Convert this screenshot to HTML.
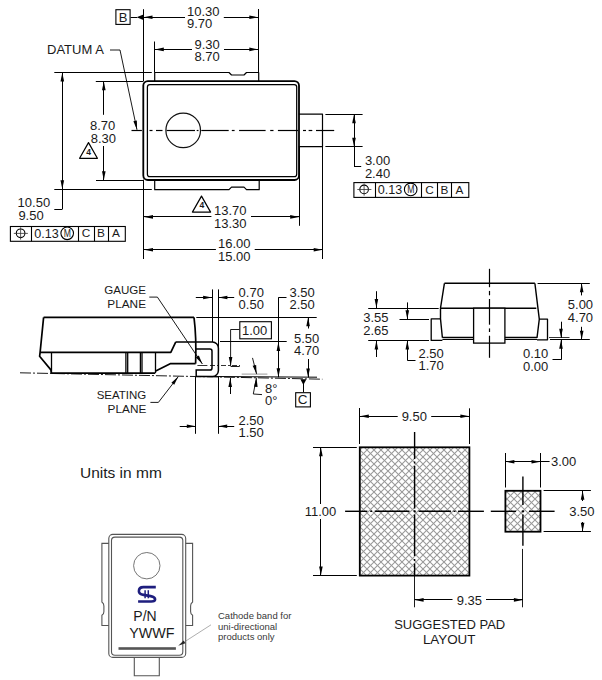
<!DOCTYPE html>
<html><head><meta charset="utf-8"><style>
html,body{margin:0;padding:0;background:#fff;}
svg{display:block;}
text{font-family:"Liberation Sans",sans-serif;}
</style></head><body>
<svg width="602" height="680" viewBox="0 0 602 680">
<defs>
<pattern id="hatch" patternUnits="userSpaceOnUse" x="3" y="2" width="7" height="7">
<rect width="7" height="7" fill="#fff"/>
<path d="M-1,1 l2,-2 M0,7 l7,-7 M6,8 l2,-2" stroke="#999" stroke-width="1.05"/>
<path d="M-1,6 l2,2 M0,0 l7,7 M6,-1 l2,2" stroke="#999" stroke-width="1.05"/>
</pattern>
</defs>
<rect width="602" height="680" fill="#fff"/>
<rect x="143.3" y="81.1" width="155.7" height="98.9" rx="4.5" fill="none" stroke="#000" stroke-width="1.8"/>
<rect x="147.4" y="84.5" width="149.3" height="92.2" rx="2.5" fill="none" stroke="#000" stroke-width="1.25"/>
<polyline points="154.7,81 154.7,72.5 229,72.5 231.5,75 244,75 246.5,72.5 258.7,72.5 258.7,81" fill="none" stroke="#000" stroke-width="1.2" stroke-linejoin="round"/>
<polyline points="154.7,179.6 154.7,189.7 229,189.7 231.5,187.2 244,187.2 246.5,189.7 259.2,189.7 259.2,179.6" fill="none" stroke="#000" stroke-width="1.2" stroke-linejoin="round"/>
<polyline points="298.8,114.2 322.5,114.2 322.5,146.7 298.8,146.7" fill="none" stroke="#000" stroke-width="1.2" stroke-linejoin="round"/>
<circle cx="183.2" cy="130.4" r="17.3" fill="none" stroke="#111" stroke-width="1.2"/>
<line x1="131.5" y1="130.5" x2="141.9" y2="130.5" stroke="#000" stroke-width="1.2"/>
<line x1="149.5" y1="130.5" x2="152.5" y2="130.5" stroke="#000" stroke-width="1.2"/>
<line x1="156" y1="130.5" x2="162.5" y2="130.5" stroke="#000" stroke-width="1.2"/>
<line x1="166.6" y1="130.5" x2="195" y2="130.5" stroke="#000" stroke-width="1.2"/>
<line x1="196.7" y1="130.5" x2="198.5" y2="130.5" stroke="#000" stroke-width="1.2"/>
<line x1="201.3" y1="130.5" x2="228.7" y2="130.5" stroke="#000" stroke-width="1.2"/>
<line x1="231.8" y1="130.5" x2="234.6" y2="130.5" stroke="#000" stroke-width="1.2"/>
<line x1="239.1" y1="130.5" x2="265.6" y2="130.5" stroke="#000" stroke-width="1.2"/>
<line x1="270.2" y1="130.5" x2="273.5" y2="130.5" stroke="#000" stroke-width="1.2"/>
<line x1="277.9" y1="130.5" x2="298" y2="130.5" stroke="#000" stroke-width="1.2"/>
<line x1="303" y1="130.5" x2="306" y2="130.5" stroke="#000" stroke-width="1.2"/>
<line x1="308.6" y1="130.5" x2="312.3" y2="130.5" stroke="#000" stroke-width="1.2"/>
<line x1="316" y1="130.5" x2="334.2" y2="130.5" stroke="#000" stroke-width="1.2"/>
<rect x="115.9" y="9.7" width="14.2" height="14.7" rx="0" fill="none" stroke="#000" stroke-width="1.1"/>
<text x="123" y="22.3" font-size="13" text-anchor="middle" fill="#1a1a1a" stroke="#1a1a1a" stroke-width="0">B</text>
<line x1="130.6" y1="17.5" x2="137" y2="17.5" stroke="#000" stroke-width="1.05"/>
<polygon points="136.60,17.30 143.40,14.60 143.40,20.00" fill="#000"/>
<line x1="143.5" y1="9.2" x2="143.5" y2="81" stroke="#000" stroke-width="1.05"/>
<line x1="258.5" y1="9" x2="258.5" y2="72.5" stroke="#000" stroke-width="1.05"/>
<line x1="154.5" y1="41.5" x2="154.5" y2="72.5" stroke="#000" stroke-width="1.05"/>
<line x1="143.5" y1="17.5" x2="185" y2="17.5" stroke="#000" stroke-width="1.05"/>
<line x1="223.8" y1="17.5" x2="258.3" y2="17.5" stroke="#000" stroke-width="1.05"/>
<polygon points="143.50,17.30 152.50,15.50 152.50,19.10" fill="#000"/>
<polygon points="258.30,17.30 249.30,19.10 249.30,15.50" fill="#000"/>
<text x="187" y="15.8" font-size="13" text-anchor="start" fill="#1a1a1a" stroke="#1a1a1a" stroke-width="0">10.30</text>
<text x="187" y="28.3" font-size="13" text-anchor="start" fill="#1a1a1a" stroke="#1a1a1a" stroke-width="0">9.70</text>
<line x1="154.8" y1="49.5" x2="192" y2="49.5" stroke="#000" stroke-width="1.05"/>
<line x1="224" y1="49.5" x2="258.3" y2="49.5" stroke="#000" stroke-width="1.05"/>
<polygon points="154.80,49.40 163.80,47.60 163.80,51.20" fill="#000"/>
<polygon points="258.30,49.40 249.30,51.20 249.30,47.60" fill="#000"/>
<text x="194.5" y="48.7" font-size="13" text-anchor="start" fill="#1a1a1a" stroke="#1a1a1a" stroke-width="0">9.30</text>
<text x="194.5" y="61.3" font-size="13" text-anchor="start" fill="#1a1a1a" stroke="#1a1a1a" stroke-width="0">8.70</text>
<text x="47" y="54.3" font-size="13" text-anchor="start" fill="#1a1a1a" stroke="#1a1a1a" stroke-width="0">DATUM A</text>
<polyline points="110,50 120,50 137,129.8" fill="none" stroke="#000" stroke-width="0.9" stroke-linejoin="round"/>
<polygon points="137.00,129.80 133.36,121.37 136.89,120.62" fill="#000"/>
<line x1="54.3" y1="72.5" x2="151.8" y2="72.5" stroke="#000" stroke-width="1.05"/>
<line x1="95.8" y1="81.5" x2="143.5" y2="81.5" stroke="#000" stroke-width="1.05"/>
<line x1="96" y1="180.5" x2="143.5" y2="180.5" stroke="#000" stroke-width="1.05"/>
<line x1="54.3" y1="189.5" x2="151.8" y2="189.5" stroke="#000" stroke-width="1.05"/>
<line x1="62.5" y1="72.4" x2="62.5" y2="209.2" stroke="#000" stroke-width="1.05"/>
<line x1="62.3" y1="209.5" x2="54.3" y2="209.5" stroke="#000" stroke-width="1.05"/>
<polygon points="62.30,72.40 64.10,81.40 60.50,81.40" fill="#000"/>
<polygon points="62.30,189.30 60.50,180.30 64.10,180.30" fill="#000"/>
<text x="17.6" y="207.4" font-size="13" text-anchor="start" fill="#1a1a1a" stroke="#1a1a1a" stroke-width="0">10.50</text>
<text x="18.4" y="220.4" font-size="13" text-anchor="start" fill="#1a1a1a" stroke="#1a1a1a" stroke-width="0">9.50</text>
<line x1="103.5" y1="81.2" x2="103.5" y2="114.8" stroke="#000" stroke-width="1.05"/>
<line x1="103.5" y1="146" x2="103.5" y2="180.2" stroke="#000" stroke-width="1.05"/>
<polygon points="103.80,81.20 105.60,90.20 102.00,90.20" fill="#000"/>
<polygon points="103.80,180.20 102.00,171.20 105.60,171.20" fill="#000"/>
<text x="90" y="129.7" font-size="13" text-anchor="start" fill="#1a1a1a" stroke="#1a1a1a" stroke-width="0">8.70</text>
<text x="90.7" y="142.6" font-size="13" text-anchor="start" fill="#1a1a1a" stroke="#1a1a1a" stroke-width="0">8.30</text>
<polygon points="88.5,142.6 79.6,158.3 97.4,158.3" fill="none" stroke="#000" stroke-width="1.2" stroke-linejoin="round"/>
<text x="88.7" y="154.9" font-size="8.5" text-anchor="middle" fill="#1a1a1a" stroke="#1a1a1a" stroke-width="0" font-weight="bold">4</text>
<rect x="10.4" y="226.5" width="114.9" height="14.8" rx="0" fill="none" stroke="#000" stroke-width="1.1"/>
<line x1="31.5" y1="226.5" x2="31.5" y2="241.3" stroke="#000" stroke-width="1.1"/>
<line x1="78.5" y1="226.5" x2="78.5" y2="241.3" stroke="#000" stroke-width="1.1"/>
<line x1="94.5" y1="226.5" x2="94.5" y2="241.3" stroke="#000" stroke-width="1.1"/>
<line x1="108.5" y1="226.5" x2="108.5" y2="241.3" stroke="#000" stroke-width="1.1"/>
<circle cx="20.6" cy="233.3" r="4.3" fill="none" stroke="#000" stroke-width="1.1"/>
<line x1="13.8" y1="233.4" x2="27.9" y2="233.4" stroke="#333" stroke-width="0.8"/>
<line x1="20.6" y1="227.3" x2="20.6" y2="239.6" stroke="#333" stroke-width="0.8"/>
<text x="34.3" y="237.7" font-size="12.6" text-anchor="start" fill="#1a1a1a" stroke="#1a1a1a" stroke-width="0">0.13</text>
<circle cx="67.2" cy="233.3" r="6.3" fill="none" stroke="#000" stroke-width="1.1"/>
<text x="67.3" y="237.3" font-size="10.8" text-anchor="middle" fill="#1a1a1a" stroke="#1a1a1a" stroke-width="0" textLength="7.2" lengthAdjust="spacingAndGlyphs">M</text>
<text x="85.9" y="237.4" font-size="11.8" text-anchor="middle" fill="#1a1a1a" stroke="#1a1a1a" stroke-width="0">C</text>
<text x="101.0" y="237.4" font-size="11.8" text-anchor="middle" fill="#1a1a1a" stroke="#1a1a1a" stroke-width="0">B</text>
<text x="116.0" y="237.4" font-size="11.8" text-anchor="middle" fill="#1a1a1a" stroke="#1a1a1a" stroke-width="0">A</text>
<line x1="325.4" y1="114.5" x2="362.6" y2="114.5" stroke="#000" stroke-width="1.05"/>
<line x1="325.4" y1="146.5" x2="362.6" y2="146.5" stroke="#000" stroke-width="1.05"/>
<line x1="354.5" y1="114.2" x2="354.5" y2="166.6" stroke="#000" stroke-width="1.05"/>
<line x1="354" y1="166.5" x2="361.2" y2="166.5" stroke="#000" stroke-width="1.05"/>
<polygon points="354.00,114.20 355.80,123.20 352.20,123.20" fill="#000"/>
<polygon points="354.00,146.70 352.20,137.70 355.80,137.70" fill="#000"/>
<text x="364.9" y="165.1" font-size="13" text-anchor="start" fill="#1a1a1a" stroke="#1a1a1a" stroke-width="0">3.00</text>
<text x="364.9" y="177.9" font-size="13" text-anchor="start" fill="#1a1a1a" stroke="#1a1a1a" stroke-width="0">2.40</text>
<rect x="353.9" y="182.6" width="114.9" height="14.8" rx="0" fill="none" stroke="#000" stroke-width="1.1"/>
<line x1="375.5" y1="182.6" x2="375.5" y2="197.4" stroke="#000" stroke-width="1.1"/>
<line x1="421.5" y1="182.6" x2="421.5" y2="197.4" stroke="#000" stroke-width="1.1"/>
<line x1="437.5" y1="182.6" x2="437.5" y2="197.4" stroke="#000" stroke-width="1.1"/>
<line x1="451.5" y1="182.6" x2="451.5" y2="197.4" stroke="#000" stroke-width="1.1"/>
<circle cx="364.09999999999997" cy="189.4" r="4.3" fill="none" stroke="#000" stroke-width="1.1"/>
<line x1="357.29999999999995" y1="189.5" x2="371.4" y2="189.5" stroke="#333" stroke-width="0.8"/>
<line x1="364.09999999999997" y1="183.4" x2="364.09999999999997" y2="195.7" stroke="#333" stroke-width="0.8"/>
<text x="377.79999999999995" y="193.79999999999998" font-size="12.6" text-anchor="start" fill="#1a1a1a" stroke="#1a1a1a" stroke-width="0">0.13</text>
<circle cx="410.7" cy="189.4" r="6.3" fill="none" stroke="#000" stroke-width="1.1"/>
<text x="410.79999999999995" y="193.4" font-size="10.8" text-anchor="middle" fill="#1a1a1a" stroke="#1a1a1a" stroke-width="0" textLength="7.2" lengthAdjust="spacingAndGlyphs">M</text>
<text x="429.4" y="193.5" font-size="11.8" text-anchor="middle" fill="#1a1a1a" stroke="#1a1a1a" stroke-width="0">C</text>
<text x="444.5" y="193.5" font-size="11.8" text-anchor="middle" fill="#1a1a1a" stroke="#1a1a1a" stroke-width="0">B</text>
<text x="459.5" y="193.5" font-size="11.8" text-anchor="middle" fill="#1a1a1a" stroke="#1a1a1a" stroke-width="0">A</text>
<line x1="143.5" y1="179.6" x2="143.5" y2="259" stroke="#000" stroke-width="1.05"/>
<line x1="299.5" y1="146.7" x2="299.5" y2="225.8" stroke="#000" stroke-width="1.05"/>
<line x1="322.5" y1="146.7" x2="322.5" y2="259" stroke="#000" stroke-width="1.05"/>
<line x1="144" y1="216.5" x2="211.4" y2="216.5" stroke="#000" stroke-width="1.05"/>
<line x1="251" y1="216.5" x2="299.2" y2="216.5" stroke="#000" stroke-width="1.05"/>
<polygon points="144.00,216.90 153.00,215.10 153.00,218.70" fill="#000"/>
<polygon points="299.20,216.90 290.20,218.70 290.20,215.10" fill="#000"/>
<polygon points="201.5,196.1 192.4,212.1 210.6,212.1" fill="none" stroke="#000" stroke-width="1.2" stroke-linejoin="round"/>
<text x="201.8" y="208.4" font-size="8.5" text-anchor="middle" fill="#1a1a1a" stroke="#1a1a1a" stroke-width="0" font-weight="bold">4</text>
<text x="214" y="214.9" font-size="13" text-anchor="start" fill="#1a1a1a" stroke="#1a1a1a" stroke-width="0">13.70</text>
<text x="214" y="227.6" font-size="13" text-anchor="start" fill="#1a1a1a" stroke="#1a1a1a" stroke-width="0">13.30</text>
<line x1="144" y1="249.5" x2="215.9" y2="249.5" stroke="#000" stroke-width="1.05"/>
<line x1="254.7" y1="249.5" x2="322.7" y2="249.5" stroke="#000" stroke-width="1.05"/>
<polygon points="144.00,249.80 153.00,248.00 153.00,251.60" fill="#000"/>
<polygon points="322.70,249.80 313.70,251.60 313.70,248.00" fill="#000"/>
<text x="218" y="247.7" font-size="13" text-anchor="start" fill="#1a1a1a" stroke="#1a1a1a" stroke-width="0">16.00</text>
<text x="218" y="260.5" font-size="13" text-anchor="start" fill="#1a1a1a" stroke="#1a1a1a" stroke-width="0">15.00</text>
<polyline points="43.6,317.4 194,317.3" fill="none" stroke="#000" stroke-width="1.7" stroke-linejoin="round"/>
<path d="M194 317.3 Q196.6 338 195.6 363.6" fill="none" stroke="#000" stroke-width="1.7"/>
<polyline points="43.6,317.4 40.1,352.3 39.6,356.3 50.9,369.9 51.3,373.1" fill="none" stroke="#000" stroke-width="1.7" stroke-linejoin="round"/>
<line x1="51.3" y1="373.1" x2="155.2" y2="373.1" stroke="#000" stroke-width="1.7"/>
<line x1="155.5" y1="352.3" x2="155.5" y2="373.1" stroke="#000" stroke-width="1.3"/>
<polyline points="40.1,352.3 170.8,352.3 175.8,341.9" fill="none" stroke="#000" stroke-width="1.7" stroke-linejoin="round"/>
<line x1="51.5" y1="352.3" x2="51.5" y2="373.1" stroke="#000" stroke-width="1.3"/>
<polyline points="155.2,371.3 170.7,363.6 195.6,363.6" fill="none" stroke="#000" stroke-width="1.7" stroke-linejoin="round"/>
<line x1="125.9" y1="352.3" x2="125.9" y2="373.1" stroke="#000" stroke-width="1.3"/>
<line x1="127.7" y1="352.3" x2="127.7" y2="373.1" stroke="#000" stroke-width="1.3"/>
<line x1="140.4" y1="352.3" x2="140.4" y2="373.1" stroke="#000" stroke-width="1.3"/>
<line x1="142.0" y1="352.3" x2="142.0" y2="373.1" stroke="#000" stroke-width="1.3"/>
<path d="M175.8 341.9 H212.4 A6 6 0 0 1 218.4 347.9 V370.5 A6 6 0 0 1 212.4 376.5 H196.2 V370.1 H209.9 A2.1 2.1 0 0 0 212 368 V351.2 A2.1 2.1 0 0 0 209.9 349.1 H195.6" fill="none" stroke="#000" stroke-width="1.5"/>
<line x1="20" y1="372.8" x2="322.4" y2="379.2" stroke="#000" stroke-width="0.9" stroke-dasharray="11 2 2 2"/>
<line x1="196" y1="376.4" x2="317" y2="377.2" stroke="#000" stroke-width="1.0"/>
<line x1="197.4" y1="365.5" x2="207.4" y2="365.5" stroke="#000" stroke-width="0.8"/>
<line x1="210" y1="365.5" x2="240" y2="365.5" stroke="#000" stroke-width="0.8" stroke-dasharray="5 2 2 2"/>
<line x1="230.6" y1="366.5" x2="239.7" y2="366.5" stroke="#000" stroke-width="0.9"/>
<text x="146" y="294.3" font-size="11.6" text-anchor="end" fill="#1a1a1a" stroke="#1a1a1a" stroke-width="0">GAUGE</text>
<text x="146" y="308.2" font-size="11.8" text-anchor="end" fill="#1a1a1a" stroke="#1a1a1a" stroke-width="0">PLANE</text>
<polyline points="149.3,297.1 157.4,297.1 202.4,364" fill="none" stroke="#000" stroke-width="0.9" stroke-linejoin="round"/>
<polygon points="202.40,364.00 195.88,357.54 198.87,355.53" fill="#000"/>
<text x="146.3" y="399.4" font-size="11.5" text-anchor="end" fill="#1a1a1a" stroke="#1a1a1a" stroke-width="0">SEATING</text>
<text x="146.3" y="413.2" font-size="11.8" text-anchor="end" fill="#1a1a1a" stroke="#1a1a1a" stroke-width="0">PLANE</text>
<polyline points="150.4,402.4 158.4,402.4 178.3,376.6" fill="none" stroke="#000" stroke-width="0.9" stroke-linejoin="round"/>
<polygon points="178.30,376.60 174.23,384.83 171.38,382.63" fill="#000"/>
<line x1="212.5" y1="289.4" x2="212.5" y2="342" stroke="#000" stroke-width="1.05"/>
<line x1="218.5" y1="289.4" x2="218.5" y2="348" stroke="#000" stroke-width="1.05"/>
<line x1="196.3" y1="317.5" x2="316.7" y2="317.5" stroke="#000" stroke-width="1.05"/>
<line x1="220" y1="341.5" x2="286.7" y2="341.5" stroke="#000" stroke-width="1.05"/>
<line x1="195.5" y1="377" x2="195.5" y2="433.8" stroke="#000" stroke-width="1.05"/>
<line x1="218.5" y1="377" x2="218.5" y2="433.8" stroke="#000" stroke-width="1.05"/>
<line x1="195.8" y1="297.5" x2="212.1" y2="297.5" stroke="#000" stroke-width="1.05"/>
<line x1="218.4" y1="297.5" x2="234.2" y2="297.5" stroke="#000" stroke-width="1.05"/>
<polygon points="212.10,297.50 203.10,299.30 203.10,295.70" fill="#000"/>
<polygon points="218.40,297.50 227.40,295.70 227.40,299.30" fill="#000"/>
<text x="238.6" y="296.5" font-size="13" text-anchor="start" fill="#1a1a1a" stroke="#1a1a1a" stroke-width="0">0.70</text>
<text x="238.6" y="309.3" font-size="13" text-anchor="start" fill="#1a1a1a" stroke="#1a1a1a" stroke-width="0">0.50</text>
<line x1="278.5" y1="297.4" x2="278.5" y2="377.2" stroke="#000" stroke-width="1.05"/>
<line x1="278.4" y1="297.5" x2="286.5" y2="297.5" stroke="#000" stroke-width="1.05"/>
<polygon points="278.40,341.90 280.20,350.90 276.60,350.90" fill="#000"/>
<polygon points="278.40,377.20 276.60,368.20 280.20,368.20" fill="#000"/>
<text x="289.5" y="296.5" font-size="13" text-anchor="start" fill="#1a1a1a" stroke="#1a1a1a" stroke-width="0">3.50</text>
<text x="289.5" y="309.3" font-size="13" text-anchor="start" fill="#1a1a1a" stroke="#1a1a1a" stroke-width="0">2.50</text>
<line x1="308.5" y1="317.2" x2="308.5" y2="328.5" stroke="#000" stroke-width="1.05"/>
<line x1="308.5" y1="359" x2="308.5" y2="377.4" stroke="#000" stroke-width="1.05"/>
<polygon points="308.10,317.20 309.90,326.20 306.30,326.20" fill="#000"/>
<polygon points="308.10,377.40 306.30,368.40 309.90,368.40" fill="#000"/>
<text x="294" y="342.5" font-size="13" text-anchor="start" fill="#1a1a1a" stroke="#1a1a1a" stroke-width="0">5.50</text>
<text x="294" y="355.2" font-size="13" text-anchor="start" fill="#1a1a1a" stroke="#1a1a1a" stroke-width="0">4.70</text>
<rect x="239.8" y="321.7" width="31.6" height="17.1" rx="0" fill="none" stroke="#000" stroke-width="1.1"/>
<text x="254.6" y="335.2" font-size="13" text-anchor="middle" fill="#1a1a1a" stroke="#1a1a1a" stroke-width="0">1.00</text>
<polyline points="239.3,329.5 230.6,329.5 230.6,366" fill="none" stroke="#000" stroke-width="0.9" stroke-linejoin="round"/>
<polygon points="230.60,366.00 228.80,357.00 232.40,357.00" fill="#000"/>
<line x1="230.5" y1="378" x2="230.5" y2="394" stroke="#000" stroke-width="1.05"/>
<polygon points="230.20,378.00 232.00,387.00 228.40,387.00" fill="#000"/>
<line x1="252.5" y1="357.9" x2="256.6" y2="374.1" stroke="#000" stroke-width="0.9"/>
<polygon points="256.60,374.10 252.65,365.82 256.14,364.93" fill="#000"/>
<line x1="241.7" y1="374.1" x2="267.4" y2="374.1" stroke="#555" stroke-width="0.6"/>
<polyline points="256.4,377.8 253.3,394 262,394.6" fill="none" stroke="#000" stroke-width="0.9" stroke-linejoin="round"/>
<polygon points="256.50,377.80 257.62,386.91 254.03,386.64" fill="#000"/>
<text x="265" y="393" font-size="13" text-anchor="start" fill="#1a1a1a" stroke="#1a1a1a" stroke-width="0">8°</text>
<text x="265" y="405.2" font-size="13" text-anchor="start" fill="#1a1a1a" stroke="#1a1a1a" stroke-width="0">0°</text>
<polygon points="300.4,379.2 306.4,379.2 303.4,385" fill="#000"/>
<line x1="303.5" y1="384" x2="303.5" y2="392.2" stroke="#000" stroke-width="1.05"/>
<rect x="295.7" y="392.7" width="14.7" height="14.2" rx="0" fill="none" stroke="#000" stroke-width="1.1"/>
<text x="302.6" y="403.7" font-size="13.5" text-anchor="middle" fill="#1a1a1a" stroke="#1a1a1a" stroke-width="0">C</text>
<line x1="179.7" y1="426.5" x2="195.8" y2="426.5" stroke="#000" stroke-width="1.05"/>
<line x1="218.2" y1="426.5" x2="234.2" y2="426.5" stroke="#000" stroke-width="1.05"/>
<polygon points="195.80,426.30 186.80,428.10 186.80,424.50" fill="#000"/>
<polygon points="218.20,426.30 227.20,424.50 227.20,428.10" fill="#000"/>
<text x="238.5" y="425.3" font-size="13" text-anchor="start" fill="#1a1a1a" stroke="#1a1a1a" stroke-width="0">2.50</text>
<text x="238.5" y="437.4" font-size="13" text-anchor="start" fill="#1a1a1a" stroke="#1a1a1a" stroke-width="0">1.50</text>
<polyline points="444.4,283.3 534.9,283.3" fill="none" stroke="#000" stroke-width="1.4" stroke-linejoin="round"/>
<polyline points="444.4,283.3 440.5,308.2 440.5,318.9 442.4,337.8" fill="none" stroke="#000" stroke-width="1.4" stroke-linejoin="round"/>
<polyline points="534.9,283.3 539.3,319.2 537,337.8" fill="none" stroke="#000" stroke-width="1.4" stroke-linejoin="round"/>
<line x1="440.5" y1="308.2" x2="536.3" y2="308.2" stroke="#000" stroke-width="1.4"/>
<line x1="442.4" y1="337.5" x2="537" y2="337.5" stroke="#000" stroke-width="1.3"/>
<line x1="442.4" y1="339.5" x2="537" y2="339.5" stroke="#000" stroke-width="1.1"/>
<polyline points="440.5,318.9 431.2,318.9 431.2,340.4 442.4,340.4" fill="none" stroke="#000" stroke-width="1.3" stroke-linejoin="round"/>
<polyline points="539.3,319.2 547.5,319.2 547.5,339.8 537,339.8" fill="none" stroke="#000" stroke-width="1.3" stroke-linejoin="round"/>
<rect x="473.6" y="308.2" width="31.3" height="34.9" rx="0" fill="#fff" stroke="#000" stroke-width="1.3"/>
<line x1="489.5" y1="268.8" x2="489.5" y2="287.2" stroke="#000" stroke-width="1.2"/>
<line x1="489.5" y1="290.9" x2="489.5" y2="295.3" stroke="#000" stroke-width="1.2"/>
<line x1="489.5" y1="299" x2="489.5" y2="324.7" stroke="#000" stroke-width="1.2"/>
<line x1="489.5" y1="328.4" x2="489.5" y2="332" stroke="#000" stroke-width="1.2"/>
<line x1="489.5" y1="335.7" x2="489.5" y2="357.8" stroke="#000" stroke-width="1.2"/>
<line x1="368.2" y1="308.5" x2="438.7" y2="308.5" stroke="#000" stroke-width="1.05"/>
<line x1="399.5" y1="319.5" x2="429" y2="319.5" stroke="#000" stroke-width="1.05"/>
<line x1="368.2" y1="340.5" x2="429" y2="340.5" stroke="#000" stroke-width="1.05"/>
<line x1="376.5" y1="291.2" x2="376.5" y2="308.1" stroke="#000" stroke-width="1.05"/>
<polygon points="376.40,308.10 374.60,299.10 378.20,299.10" fill="#000"/>
<line x1="376.5" y1="340.5" x2="376.5" y2="357" stroke="#000" stroke-width="1.05"/>
<polygon points="376.40,340.50 378.20,349.50 374.60,349.50" fill="#000"/>
<text x="363.2" y="321.8" font-size="13" text-anchor="start" fill="#1a1a1a" stroke="#1a1a1a" stroke-width="0">3.55</text>
<text x="363.2" y="334.8" font-size="13" text-anchor="start" fill="#1a1a1a" stroke="#1a1a1a" stroke-width="0">2.65</text>
<line x1="407.5" y1="302.4" x2="407.5" y2="319.3" stroke="#000" stroke-width="1.05"/>
<polygon points="407.30,319.30 405.50,310.30 409.10,310.30" fill="#000"/>
<line x1="407.5" y1="340.5" x2="407.5" y2="360.3" stroke="#000" stroke-width="1.05"/>
<line x1="407.3" y1="360.5" x2="415.5" y2="360.5" stroke="#000" stroke-width="1.05"/>
<polygon points="407.30,340.50 409.10,349.50 405.50,349.50" fill="#000"/>
<text x="418.5" y="358.2" font-size="13" text-anchor="start" fill="#1a1a1a" stroke="#1a1a1a" stroke-width="0">2.50</text>
<text x="418.5" y="370" font-size="13" text-anchor="start" fill="#1a1a1a" stroke="#1a1a1a" stroke-width="0">1.70</text>
<line x1="537.6" y1="283.5" x2="589.8" y2="283.5" stroke="#000" stroke-width="1.05"/>
<line x1="550" y1="339.5" x2="589.8" y2="339.5" stroke="#000" stroke-width="1.05"/>
<line x1="549" y1="337.5" x2="569.5" y2="337.5" stroke="#000" stroke-width="0.8"/>
<line x1="581.5" y1="283.2" x2="581.5" y2="295.4" stroke="#000" stroke-width="1.05"/>
<polygon points="581.70,283.20 583.50,292.20 579.90,292.20" fill="#000"/>
<line x1="581.5" y1="326.8" x2="581.5" y2="339.8" stroke="#000" stroke-width="1.05"/>
<polygon points="581.70,339.80 579.90,330.80 583.50,330.80" fill="#000"/>
<text x="567.8" y="308.8" font-size="13" text-anchor="start" fill="#1a1a1a" stroke="#1a1a1a" stroke-width="0">5.00</text>
<text x="567.8" y="322" font-size="13" text-anchor="start" fill="#1a1a1a" stroke="#1a1a1a" stroke-width="0">4.70</text>
<line x1="561.5" y1="321.7" x2="561.5" y2="337.8" stroke="#000" stroke-width="1.05"/>
<polygon points="561.00,337.80 559.20,328.80 562.80,328.80" fill="#000"/>
<line x1="561.5" y1="339.8" x2="561.5" y2="359.8" stroke="#000" stroke-width="1.05"/>
<line x1="561" y1="359.5" x2="552.5" y2="359.5" stroke="#000" stroke-width="1.05"/>
<polygon points="561.00,339.80 562.80,348.80 559.20,348.80" fill="#000"/>
<text x="523" y="357.5" font-size="13" text-anchor="start" fill="#1a1a1a" stroke="#1a1a1a" stroke-width="0">0.10</text>
<text x="523" y="371" font-size="13" text-anchor="start" fill="#1a1a1a" stroke="#1a1a1a" stroke-width="0">0.00</text>
<text x="80" y="478.2" font-size="15.5" text-anchor="start" fill="#1a1a1a" stroke="#1a1a1a" stroke-width="0">Units in mm</text>
<rect x="359.8" y="447.3" width="109.6" height="128.3" fill="url(#hatch)" stroke="#000" stroke-width="1.8"/>
<rect x="505.4" y="490.8" width="35.1" height="40.9" fill="url(#hatch)" stroke="#000" stroke-width="1.8"/>
<line x1="345.1" y1="511.3" x2="367.4" y2="511.3" stroke="#000" stroke-width="1.4"/>
<line x1="370.2" y1="511.3" x2="372" y2="511.3" stroke="#000" stroke-width="1.4"/>
<line x1="374.7" y1="511.3" x2="409.5" y2="511.3" stroke="#000" stroke-width="1.4"/>
<line x1="413.6" y1="511.3" x2="415.6" y2="511.3" stroke="#000" stroke-width="1.4"/>
<line x1="418.6" y1="511.3" x2="451" y2="511.3" stroke="#000" stroke-width="1.4"/>
<line x1="453.5" y1="511.3" x2="455.5" y2="511.3" stroke="#000" stroke-width="1.4"/>
<line x1="458" y1="511.3" x2="483.9" y2="511.3" stroke="#000" stroke-width="1.4"/>
<line x1="490.8" y1="511.3" x2="516" y2="511.3" stroke="#000" stroke-width="1.4"/>
<line x1="521.7" y1="511.3" x2="524.2" y2="511.3" stroke="#000" stroke-width="1.4"/>
<line x1="529" y1="511.3" x2="554.6" y2="511.3" stroke="#000" stroke-width="1.4"/>
<line x1="414.6" y1="432" x2="414.6" y2="459" stroke="#000" stroke-width="1.4"/>
<line x1="414.6" y1="461.5" x2="414.6" y2="463.5" stroke="#000" stroke-width="1.4"/>
<line x1="414.6" y1="466" x2="414.6" y2="508.5" stroke="#000" stroke-width="1.4"/>
<line x1="414.6" y1="510.4" x2="414.6" y2="512.4" stroke="#000" stroke-width="1.4"/>
<line x1="414.6" y1="514.5" x2="414.6" y2="556" stroke="#000" stroke-width="1.4"/>
<line x1="414.6" y1="559" x2="414.6" y2="561" stroke="#000" stroke-width="1.4"/>
<line x1="414.6" y1="563.5" x2="414.6" y2="575.6" stroke="#000" stroke-width="1.4"/>
<line x1="414.5" y1="575.6" x2="414.5" y2="607.3" stroke="#000" stroke-width="0.9"/>
<line x1="522.9" y1="476.6" x2="522.9" y2="505" stroke="#000" stroke-width="1.4"/>
<line x1="522.9" y1="510.4" x2="522.9" y2="512.4" stroke="#000" stroke-width="1.4"/>
<line x1="522.9" y1="514.5" x2="522.9" y2="545.7" stroke="#000" stroke-width="1.4"/>
<line x1="522.5" y1="548.9" x2="522.5" y2="607.3" stroke="#000" stroke-width="0.9"/>
<line x1="359.5" y1="408" x2="359.5" y2="444" stroke="#000" stroke-width="1.05"/>
<line x1="469.5" y1="408.3" x2="469.5" y2="444" stroke="#000" stroke-width="1.05"/>
<line x1="359.8" y1="416.5" x2="397.7" y2="416.5" stroke="#000" stroke-width="1.05"/>
<line x1="431.2" y1="416.5" x2="469.4" y2="416.5" stroke="#000" stroke-width="1.05"/>
<polygon points="359.80,416.30 368.80,414.50 368.80,418.10" fill="#000"/>
<polygon points="469.40,416.30 460.40,418.10 460.40,414.50" fill="#000"/>
<text x="414.3" y="421.3" font-size="13" text-anchor="middle" fill="#1a1a1a" stroke="#1a1a1a" stroke-width="0">9.50</text>
<line x1="313" y1="447.5" x2="356.8" y2="447.5" stroke="#000" stroke-width="1.05"/>
<line x1="313" y1="575.5" x2="356.8" y2="575.5" stroke="#000" stroke-width="1.05"/>
<line x1="320.5" y1="447.3" x2="320.5" y2="504" stroke="#000" stroke-width="1.05"/>
<line x1="320.5" y1="519" x2="320.5" y2="575.6" stroke="#000" stroke-width="1.05"/>
<polygon points="320.90,447.30 322.70,456.30 319.10,456.30" fill="#000"/>
<polygon points="320.90,575.60 319.10,566.60 322.70,566.60" fill="#000"/>
<text x="320.5" y="516.2" font-size="13" text-anchor="middle" fill="#1a1a1a" stroke="#1a1a1a" stroke-width="0">11.00</text>
<line x1="505.5" y1="453" x2="505.5" y2="487.5" stroke="#000" stroke-width="1.05"/>
<line x1="540.5" y1="453" x2="540.5" y2="487.5" stroke="#000" stroke-width="1.05"/>
<line x1="505.4" y1="461.5" x2="549.6" y2="461.5" stroke="#000" stroke-width="1.05"/>
<polygon points="505.40,461.70 514.40,459.90 514.40,463.50" fill="#000"/>
<polygon points="540.50,461.70 531.50,463.50 531.50,459.90" fill="#000"/>
<text x="551" y="465.9" font-size="13" text-anchor="start" fill="#1a1a1a" stroke="#1a1a1a" stroke-width="0">3.00</text>
<line x1="543.6" y1="490.5" x2="590.9" y2="490.5" stroke="#000" stroke-width="1.05"/>
<line x1="543.6" y1="531.5" x2="590.9" y2="531.5" stroke="#000" stroke-width="1.05"/>
<line x1="582.5" y1="490.8" x2="582.5" y2="501" stroke="#000" stroke-width="1.05"/>
<line x1="582.5" y1="522" x2="582.5" y2="531.7" stroke="#000" stroke-width="1.05"/>
<polygon points="582.60,490.80 584.40,499.80 580.80,499.80" fill="#000"/>
<polygon points="582.60,531.70 580.80,522.70 584.40,522.70" fill="#000"/>
<text x="569.2" y="516.2" font-size="13" text-anchor="start" fill="#1a1a1a" stroke="#1a1a1a" stroke-width="0">3.50</text>
<line x1="414.6" y1="599.5" x2="452.5" y2="599.5" stroke="#000" stroke-width="1.05"/>
<line x1="486" y1="599.5" x2="522.9" y2="599.5" stroke="#000" stroke-width="1.05"/>
<polygon points="414.60,599.90 423.60,598.10 423.60,601.70" fill="#000"/>
<polygon points="522.90,599.90 513.90,601.70 513.90,598.10" fill="#000"/>
<text x="469.4" y="605" font-size="13" text-anchor="middle" fill="#1a1a1a" stroke="#1a1a1a" stroke-width="0">9.35</text>
<text x="449.7" y="628.6" font-size="13" text-anchor="middle" fill="#1a1a1a" stroke="#1a1a1a" stroke-width="0">SUGGESTED PAD</text>
<text x="449.2" y="644" font-size="13.4" text-anchor="middle" fill="#1a1a1a" stroke="#1a1a1a" stroke-width="0">LAYOUT</text>
<rect x="108.8" y="534.4" width="76.9" height="123" rx="4" fill="none" stroke="#555" stroke-width="1.1"/>
<rect x="111.5" y="537.1" width="71.3" height="118.2" rx="3.5" fill="none" stroke="#555" stroke-width="1.1"/>
<path d="M108.8 543.4 H101.9 V602 Q104 603.5 103.9 606 V611.5 Q104 614 101.9 615.3 V625.5 H108.8" fill="none" stroke="#555" stroke-width="1.1"/>
<path d="M185.7 543.4 H192.6 V602 Q190.5 603.5 190.6 606 V611.5 Q190.5 614 192.6 615.3 V625.5 H185.7" fill="none" stroke="#555" stroke-width="1.1"/>
<path d="M134.3 657.4 V675.8 H159.3 V657.4" fill="none" stroke="#555" stroke-width="1.1"/>
<circle cx="146.8" cy="565.7" r="13.2" fill="none" stroke="#666" stroke-width="0.9"/>
<path d="M155.8 587.1 H143.4 C140.2 587.1 138.9 589 138.9 591.2 C138.9 593.6 141 594.4 143.6 594.9 L150.6 596.1 C153.8 596.7 155.1 597.9 155.1 599.3 C155.1 601 153.6 601.5 151.2 601.5 H138.1" fill="none" stroke="#1e1e7e" stroke-width="2.6"/>
<line x1="145.1" y1="590.2" x2="145.1" y2="598.3" stroke="#1e1e7e" stroke-width="1.5"/>
<line x1="148.3" y1="590.2" x2="148.3" y2="598.3" stroke="#1e1e7e" stroke-width="1.5"/>
<text x="145" y="620.8" font-size="14" text-anchor="middle" fill="#1a1a1a" stroke="#1a1a1a" stroke-width="0">P/N</text>
<text x="151.8" y="637.7" font-size="14.3" text-anchor="middle" fill="#1a1a1a" stroke="#1a1a1a" stroke-width="0">YWWF</text>
<rect x="118.5" y="647.2" width="57.4" height="2.6" fill="#555"/>
<line x1="184.9" y1="641.6" x2="211" y2="624.8" stroke="#777" stroke-width="0.6"/>
<polygon points="178.20,645.80 183.70,640.46 185.40,643.17" fill="#222"/>
<text x="218" y="619.3" font-size="9.5" text-anchor="start" fill="#383838" stroke="#383838" stroke-width="0">Cathode band for</text>
<text x="218" y="629.5" font-size="9.5" text-anchor="start" fill="#383838" stroke="#383838" stroke-width="0">uni-directional</text>
<text x="218" y="639.7" font-size="9.5" text-anchor="start" fill="#383838" stroke="#383838" stroke-width="0">products only</text>
</svg>
</body></html>
